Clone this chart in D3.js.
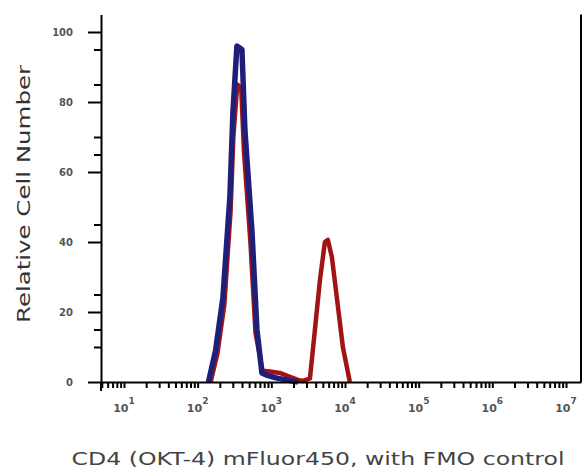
<!DOCTYPE html>
<html>
<head>
<meta charset="utf-8">
<title>CD4 histogram</title>
<script src="https://cdn.jsdelivr.net/npm/d3@7"></script>
<style>
  body { margin: 0; background: #fff; }
  svg { display: block; }
</style>
</head>
<body>
<div id="chart"></div>
<script>
// FMO control (blue) and stained sample (red)
var fmoX = [140, 175, 220, 274, 301, 341, 399, 438, 546, 638, 745, 900, 1200, 1790, 2300];
var fmoY = [0, 9, 24, 53, 77, 96, 95, 72, 43, 15, 2.6, 1.8, 1.1, 0.4, 0];

// stained sample: its negative peak sits inside the blue one
var stainX = [150, 185, 230, 280, 305, 345, 390, 425, 520, 610, 760, 957, 1300, 1787, 2300, 2684, 3342, 3908, 4563, 5333, 5857, 6637, 7762, 9355, 11641];
var stainY = [0, 8, 22, 49, 70, 85, 84, 66, 40, 14, 3.2, 3.0, 2.6, 1.5, 0.6, 0.3, 1.0, 15, 29, 40, 40.6, 35.7, 24, 10, 0];

var yMajor = [0, 20, 40, 60, 80, 100];
var yMajorLabels = ["0", "20", "40", "60", "80", "100"];
var yMinor = [10, 15, 25, 45, 65, 70, 85, 95];
var xDecades = [1, 2, 3, 4, 5, 6, 7];

var svg = d3.select('#chart').append('svg')
    .attr('width', 583)
    .attr('height', 476);

var x = d3.scaleLog()
    .domain([Math.pow(10, 1 - 23 / 73.7), Math.pow(10, 7 + 15 / 73.7)])
    .range([101, 581]);

var y = d3.scaleLinear()
    .domain([0, 105])
    .range([382, 14.5]);

// minor log ticks 2..9 in each decade
var xTicks = [];
for (var e = 0; e <= 7; e++) {
    for (var m = 1; m <= 9; m++) {
        var v = m * Math.pow(10, e);
        if (v >= x.domain()[0] && v <= x.domain()[1]) xTicks.push(v);
    }
}

// curves (red below, blue on top)
var line = d3.line()
    .x(function(d) { return x(d[0]); })
    .y(function(d) { return y(d[1]); });

svg.append('path')
    .datum(d3.zip(stainX, stainY))
    .attr('d', line)
    .attr('fill', 'none')
    .attr('stroke', '#a01414')
    .attr('stroke-width', 4.5)
    .attr('stroke-linejoin', 'round');

svg.append('path')
    .datum(d3.zip(fmoX, fmoY))
    .attr('d', line)
    .attr('fill', 'none')
    .attr('stroke', '#1f1f7a')
    .attr('stroke-width', 5.5)
    .attr('stroke-linejoin', 'round');

// x axis
var gx = svg.append('g')
    .attr('transform', 'translate(0,382)')
    .call(d3.axisBottom(x).tickValues(xTicks).tickSize(6).tickSizeOuter(0).tickFormat(''));
gx.selectAll('path, line').attr('stroke', '#000').attr('stroke-width', 2);

// y axis
var gy = svg.append('g')
    .attr('transform', 'translate(101,0)')
    .call(d3.axisLeft(y).tickValues(yMajor).tickSize(13).tickSizeOuter(0).tickFormat(''));
gy.selectAll('path, line').attr('stroke', '#000').attr('stroke-width', 2);

svg.append('g')
    .attr('transform', 'translate(101,0)')
    .call(d3.axisLeft(y).tickValues(yMinor).tickSize(7).tickSizeOuter(0).tickFormat(''))
    .call(function(g) { g.select('.domain').remove(); })
    .selectAll('line').attr('stroke', '#000').attr('stroke-width', 2);

// y axis runs a little below the x axis, and a right border line
svg.append('line')
    .attr('x1', 101).attr('x2', 101)
    .attr('y1', y(0)).attr('y2', y(0) + 9)
    .attr('stroke', '#000').attr('stroke-width', 2);
svg.append('line')
    .attr('x1', 581).attr('x2', 581)
    .attr('y1', y(105)).attr('y2', y(0))
    .attr('stroke', '#000').attr('stroke-width', 2);

// y tick labels
svg.selectAll('.ylab')
    .data(yMajor)
    .enter().append('text')
    .attr('class', 'ylab')
    .attr('x', 73)
    .attr('y', function(d) { return y(d) + 4; })
    .attr('text-anchor', 'end')
    .attr('font-family', 'DejaVu Sans, sans-serif')
    .attr('font-size', 10)
    .attr('font-weight', 'bold')
    .attr('fill', '#555')
    .text(function(d, i) { return yMajorLabels[i]; });

// x tick labels 10^n
var xl = svg.selectAll('.xlab')
    .data(xDecades)
    .enter().append('text')
    .attr('class', 'xlab')
    .attr('x', function(d) { return x(Math.pow(10, d)); })
    .attr('y', 412)
    .attr('text-anchor', 'middle')
    .attr('font-family', 'DejaVu Sans, sans-serif')
    .attr('font-size', 11)
    .attr('font-weight', 'bold')
    .attr('fill', '#555');
xl.append('tspan').text('10');
xl.append('tspan')
    .attr('dy', -8)
    .attr('font-size', 9)
    .text(function(d) { return d; });

// axis titles
svg.append('text')
    .attr('x', 318)
    .attr('y', 465)
    .attr('text-anchor', 'middle')
    .attr('font-family', 'DejaVu Sans, sans-serif')
    .attr('font-size', 18)
    .attr('fill', '#444')
    .attr('textLength', 493)
    .attr('lengthAdjust', 'spacingAndGlyphs')
    .text('CD4 (OKT-4) mFluor450, with FMO control');

svg.append('text')
    .attr('transform', 'translate(30,194) rotate(-90)')
    .attr('text-anchor', 'middle')
    .attr('font-family', 'DejaVu Sans, sans-serif')
    .attr('font-size', 18)
    .attr('fill', '#333')
    .attr('textLength', 258)
    .attr('lengthAdjust', 'spacingAndGlyphs')
    .text('Relative Cell Number');
</script>
</body>
</html>
